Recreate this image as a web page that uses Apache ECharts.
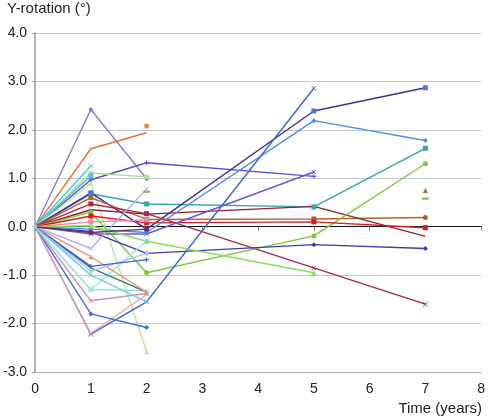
<!DOCTYPE html>
<html><head><meta charset="utf-8">
<script src="https://cdn.jsdelivr.net/npm/echarts@6/dist/echarts.min.js"></script>
<style>html,body{margin:0;padding:0;background:#fff}#c{width:488px;height:420px}</style>
</head><body><div id="c"></div>
<script>
// time points (years)
const times = [0, 1, 2, 5, 7];
const xTicks = [0, 1, 2, 3, 4, 5, 6, 7, 8];
const yTicks = [-3, -2, -1, 0, 1, 2, 3, 4];
// Y-rotation values per subject at times 0,1,2,5,7
const s01 = [0, 2.42, 0.99, null, null];
const s02 = [0, 1.61, 1.94, null, null];
const s03 = [null, null, 2.08, null, null];
const s04 = [0, 0.97, 1.32, 1.04, null];
const s05 = [0, 1.11, 1.03, null, null];
const s06 = [0, 1.26, null, null, null];
const s07 = [0, 1.05, null, null, null];
const s08 = [0, 0.9, -2.58, null, null];
const s09 = [0, 0.68, 0.47, 0.41, 1.62];
const s10 = [0, 0.7, -0.05, 2.39, 2.87];
const s11 = [0, 0.6, 0.15, 0.16, 0.19];
const s12 = [0, 0.47, 0.27, -0.85, -1.6];
const s13 = [0, 0.35, 0.26, 0.42, -0.2];
const s14 = [0, 0.3, -0.95, -0.19, 1.3];
const s15 = [0, 0.22, 0.08, 0.1, -0.02];
const s16 = [0, -0.1, -0.55, -0.37, -0.45];
const s17 = [0, -0.05, -0.12, 2.19, 1.78];
const s18 = [0, -0.15, -0.15, 1.13, null];
const s19 = [0, -2.22, -1.55, 2.86, null];
const s20 = [0, -2.2, -1.4, null, null];
const s21 = [0, -1.8, -2.08, null, null];
const s22 = [0, -1.53, -1.38, null, null];
const s23 = [0, -1.3, -1.32, null, null];
const s24 = [0, -1.3, -0.3, null, null];
const s25 = [0, -0.85, -1.35, null, null];
const s26 = [0, -0.62, -1.35, null, null];
const s27 = [0, -0.45, 0.78, null, null];
const s28 = [0, -0.92, -0.55, null, null];
const s29 = [0, -0.82, -0.68, null, null];
const s30 = [0, 0.02, -0.3, -0.95, null];
const s31 = [null, null, 0.72, null, null];
const s32 = [null, null, null, null, 0.75];
const s33 = [null, null, null, null, 0.58];
const s34 = [0, 0.1, 0.14, null, null];
const s35 = [0, -1.0, -1.55, null, null];
const s36 = [0, -0.12, -0.05, null, null];
const origin = [0, null, null, null, null];

const X = 'path://M0,1L1,0L5,4L9,0L10,1L6,5L10,9L9,10L5,6L1,10L0,9L4,5Z';
const P = 'path://M4,0H6V4H10V6H6V10H4V6H0V4H4Z';
const D = 'rect';
const DASH = 'dash';

// [values, line colour, marker colour, marker symbol(s)]
const styles = [
  [s01, '#8878D8', '#8878D8', 'diamond'], [s02, '#E86F35', '#E86F35', 'none'], [s03, '#F08A4B', '#F08A4B', 'circle'],
  [s04, '#5A4ED0', '#5A4ED0', P], [s05, '#A8E28E', '#A8E28E', 'circle'], [s06, '#3CCFD6', '#3CCFD6', X],
  [s07, '#5ABEE0', '#5ABEE0', 'rect'], [s08, '#B5E6A0', '#B5E6A0', 'triangle'], [s09, '#35A5AE', '#35A5AE', 'rect'],
  [s10, '#3A2E9A', '#4F73E6', 'rect'], [s11, '#B8602C', '#B8602C', ['none', 'rect', 'rect', 'rect', 'circle']],
  [s12, '#A8284A', '#A8284A', ['none', 'rect', 'rect', X, X]],
  [s13, '#8E2038', '#8E2038', 'none'], [s14, '#78CC38', '#78CC38', 'circle'], [s15, '#D02020', '#D02020', 'rect'],
  [s16, '#4038B0', '#4038B0', 'diamond'], [s17, '#4A8EE8', '#4A8EE8', 'diamond'], [s18, '#6A58E0', '#6A58E0', X],
  [s19, '#3A66DA', '#3A66DA', X], [s20, '#F2A4AE', '#F2A4AE', X], [s21, '#3A6EE6', '#3A6EE6', 'diamond'],
  [s22, '#C891B8', '#C891B8', X], [s23, '#8AD8E0', '#8AD8E0', X], [s24, '#A0E4E4', '#A0E4E4', 'rect'],
  [s25, '#2E7C80', '#2E7C80', 'none'], [s26, '#F0926E', '#F0926E', 'triangle'], [s27, '#B4ACE6', '#B4ACE6', X],
  [s28, '#B0C4F0', '#B0C4F0', 'diamond'], [s29, '#4060D8', '#4060D8', P], [s30, '#86E058', '#86E058', 'triangle'],
  [s31, '#B0A060', '#B0A060', DASH], [s32, '#C0602C', '#C0602C', 'triangle'], [s33, '#6CC030', '#6CC030', DASH],
  [s34, '#E88AA0', '#E88AA0', 'rect'], [s35, '#70D0D8', '#70D0D8', X], [s36, '#6A3060', '#6A3060', 'circle'],
  [origin, '#B8C8C8', '#B8C8C8', 'diamond']
];

const series = styles.map(([vals, color, mcolor, sym]) => ({
  type: 'line', xAxisIndex: 0, yAxisIndex: 0,
  data: times.map((t, k) => {
    let s = Array.isArray(sym) ? sym[k] : sym;
    if (t === 0 && vals !== origin) s = 'none';
    if (s === DASH) return { value: [t, vals[k]], symbol: 'rect', symbolSize: [7, 2] };
    return { value: [t, vals[k]], symbol: s };
  }),
  connectNulls: false,
  symbolSize: 5, showSymbol: true,
  lineStyle: { color: color, width: 1.4 },
  itemStyle: { color: mcolor },
  emphasis: { disabled: true },
  z: 3
}));

const chart = echarts.init(document.getElementById('c'), null, { renderer: 'canvas' });
chart.setOption({
  animation: false,
  grid: { left: 35, right: 6, top: 33, bottom: 48 },
  xAxis: [{
    type: 'value', min: xTicks[0], max: xTicks[xTicks.length - 1], interval: 1,
    axisLine: { show: true, onZero: false, lineStyle: { color: '#a8abb0', width: 1 } },
    axisTick: { show: false },
    splitLine: { show: false },
    axisLabel: { margin: 10, fontSize: 14, color: '#222', fontFamily: 'Liberation Sans' }
  }, {
    type: 'value', min: xTicks[0], max: xTicks[xTicks.length - 1], interval: 1, position: 'bottom',
    axisLine: { show: true, onZero: true, lineStyle: { color: '#111', width: 1 } },
    axisTick: { show: true, length: 4, lineStyle: { color: '#888' } },
    axisLabel: { show: false },
    splitLine: { show: false }
  }],
  yAxis: {
    type: 'value', min: yTicks[0], max: yTicks[yTicks.length - 1], interval: 1,
    axisLine: { show: true, onZero: false, lineStyle: { color: '#999', width: 1.5 } },
    axisTick: { show: true, length: 3, lineStyle: { color: '#999' } },
    splitLine: { show: true, lineStyle: { color: '#c4c8d0', width: 1 } },
    axisLabel: { margin: 8, fontSize: 14, color: '#222', fontFamily: 'Liberation Sans',
      formatter: v => v.toFixed(1) }
  },
  graphic: [
    { type: 'text', left: 7, top: 1, style: { text: 'Y-rotation (°)', fontSize: 15, fill: '#222', fontFamily: 'Liberation Sans' } },
    { type: 'text', right: 6, top: 401, style: { text: 'Time (years)', fontSize: 15, fill: '#222', fontFamily: 'Liberation Sans' } }
  ],
  series: series
});
</script>
</body></html>
